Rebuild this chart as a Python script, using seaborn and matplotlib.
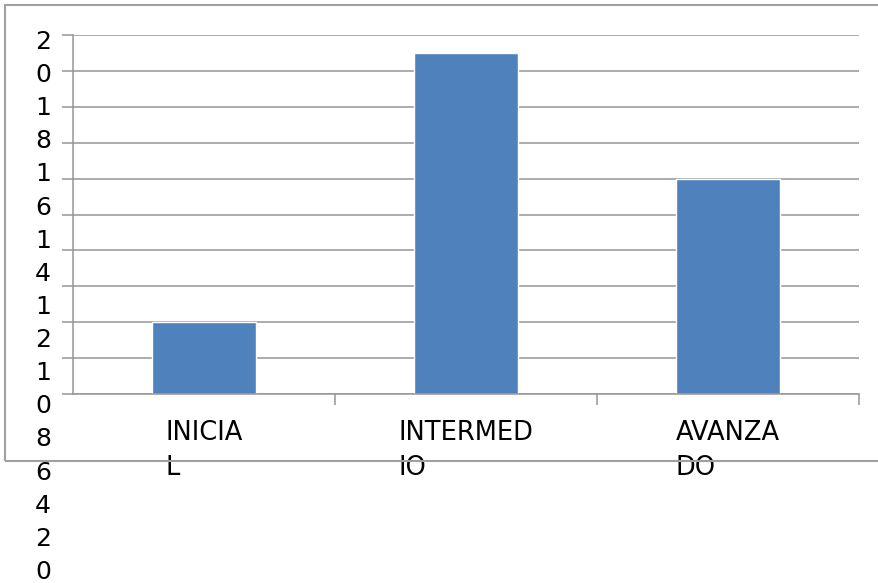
import matplotlib
matplotlib.use("Agg")
import matplotlib.pyplot as plt
import seaborn as sns
import pandas as pd
from matplotlib.patches import Rectangle

categories = ["INICIAL", "INTERMEDIO", "AVANZADO"]
values = [4, 19, 12]
x_tick_labels = ["INICIA\nL", "INTERMED\nIO", "AVANZA\nDO"]
y_ticks = [20, 18, 16, 14, 12, 10, 8, 6, 4, 2, 0]

sns.set_style("white")
plt.rcParams["font.family"] = ["DejaVu Sans"]
plt.rcParams["text.color"] = "black"
plt.rcParams["xtick.color"] = "black"

W, H = 879, 583
fig = plt.figure(figsize=(W / 100, H / 100), dpi=100)
ax = fig.add_axes([73 / W, 1 - 394 / H, 786 / W, 359 / H])

df = pd.DataFrame({"cat": categories, "val": values})
sns.barplot(data=df, x="cat", y="val", color="#4f81bd", saturation=1,
            width=0.4, ax=ax)

grid_c = "#969696"
ax.set_ylim(0, 20)
ax.set_xlim(-0.5, len(categories) - 0.5)
ax.set_yticks(y_ticks)
ax.set_yticklabels([])
ax.yaxis.grid(True, color=grid_c, linewidth=1.1)
ax.set_axisbelow(True)
ax.tick_params(axis="y", length=8, width=1.1, color=grid_c, left=True)

ax.set_xticks(range(len(categories)))
ax.set_xticklabels(x_tick_labels, fontsize=18.5, linespacing=1.44,
                   multialignment="left", color="black")
ax.tick_params(axis="x", which="major", length=0, pad=19)
ax.set_xticks([i + 0.5 for i in range(len(categories))], minor=True)
ax.tick_params(axis="x", which="minor", length=8, width=1.1, color=grid_c,
               bottom=True)
ax.set_xlabel("")
ax.set_ylabel("")

for s in ["top", "right"]:
    ax.spines[s].set_visible(False)
for s in ["left", "bottom"]:
    ax.spines[s].set_color(grid_c)
    ax.spines[s].set_linewidth(1.1)

# wrapped y tick labels stacked as one column (as in the reference)
digits = "\n".join(ch for t in y_ticks for ch in str(t))
fig.text(43 / W, 1 - 30 / H, digits, ha="center", va="top", fontsize=18,
         linespacing=1.48, color="black")

# outer chart frame (its right side runs past the image edge)
fig.patches.append(Rectangle((5 / W, 1 - 461 / H), 1.2, (461 - 5) / H,
                             transform=fig.transFigure, fill=False,
                             edgecolor="#a0a0a0", linewidth=1.5))

fig.savefig("out.png", dpi=100)
